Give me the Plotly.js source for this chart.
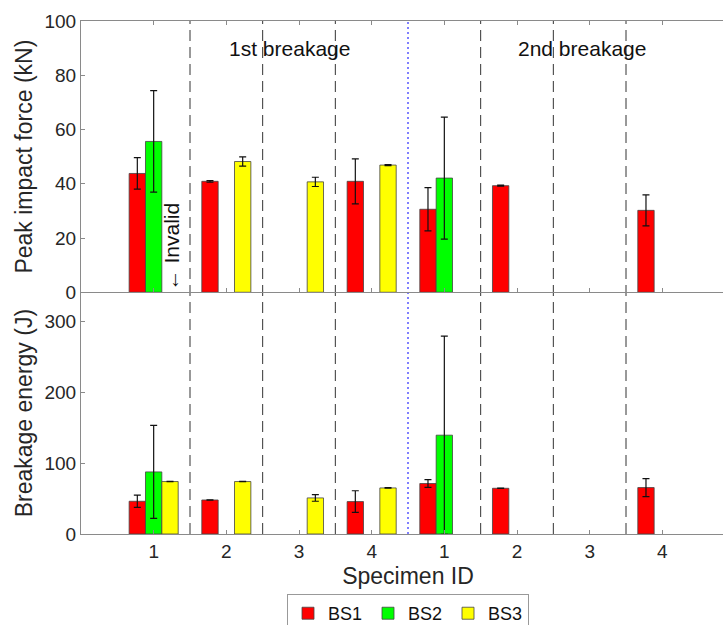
<!DOCTYPE html>
<html>
<head>
<meta charset="utf-8">
<script src="https://cdn.plot.ly/plotly-3.0.1.min.js"></script>
<style>
html,body{margin:0;padding:0;overflow:hidden;background:#fff;}
#chart{width:760px;height:625px;}
</style>
</head>
<body>
<div id="chart"></div>
<script>
// Positions 1..8 : specimens 1-4 (1st breakage), 1-4 (2nd breakage)
const xPos = [1, 2, 3, 4, 5, 6, 7, 8];
const tickLabels = ['1', '2', '3', '4', '1', '2', '3', '4'];
const seriesNames = ['BS1', 'BS2', 'BS3'];

// Peak impact force (kN)
const forceBS1 = [43.8, 40.9, null, 40.9, 30.6, 39.3, null, 30.2];
const forceBS1Err = [5.8, 0.3, null, 8.3, 8.0, 0.2, null, 5.7];
const forceBS2 = [55.6, null, null, null, 42.1, null, null, null];
const forceBS2Err = [18.7, null, null, null, 22.5, null, null, null];
const forceBS3 = [null, 48.2, 40.7, 46.9, null, null, null, null];
const forceBS3Err = [null, 1.7, 1.7, 0.2, null, null, null, null];

// Breakage energy (J)
const energyBS1 = [46.2, 48.0, null, 45.7, 71.2, 64.5, null, 65.5];
const energyBS1Err = [8.7, 0.3, null, 15.3, 5.4, 0.3, null, 12.7];
const energyBS2 = [87.6, null, null, null, 139.4, null, null, null];
const energyBS2Err = [65.6, null, null, null, 139.8, null, null, null];
const energyBS3 = [74.0, 74.0, 50.9, 65.0, null, null, null, null];
const energyBS3Err = [0.3, 0.3, 4.7, 0.4, null, null, null, null];

const colors = ['#ff0000', '#00ff00', '#ffff00'];
const FONT = 'Liberation Sans, Arial, Helvetica, sans-serif';

function barTrace(name, y, err, color, xa, ya, showLegend) {
  return {
    type: 'bar', name: name, x: xPos, y: y,
    xaxis: xa, yaxis: ya, showlegend: showLegend,
    marker: {color: color, line: {color: '#444', width: 0.8}},
    error_y: {type: 'data', array: err, visible: true, color: '#111', thickness: 1.2, width: 3.5}
  };
}

const traces = [
  barTrace(seriesNames[0], forceBS1, forceBS1Err, colors[0], 'x2', 'y2', false),
  barTrace(seriesNames[1], forceBS2, forceBS2Err, colors[1], 'x2', 'y2', false),
  barTrace(seriesNames[2], forceBS3, forceBS3Err, colors[2], 'x2', 'y2', false),
  barTrace(seriesNames[0], energyBS1, energyBS1Err, colors[0], 'x', 'y', true),
  barTrace(seriesNames[1], energyBS2, energyBS2Err, colors[1], 'x', 'y', true),
  barTrace(seriesNames[2], energyBS3, energyBS3Err, colors[2], 'x', 'y', true)
];

const dashedAt = [1.5, 2.5, 3.5, 5.5, 6.5, 7.5];
const shapes = dashedAt.map(v => ({
  type: 'line', xref: 'x', yref: 'paper', x0: v, x1: v, y0: 0, y1: 1,
  line: {color: '#333', width: 1, dash: '11px,6px'}, layer: 'below'
}));
shapes.push({
  type: 'line', xref: 'x', yref: 'paper', x0: 4.5, x1: 4.5, y0: 0, y1: 1,
  line: {color: '#0000ff', width: 1, dash: '2px,3px'}, layer: 'below'
});

const axisLine = '#8a8a8a';
const tickFont = {family: FONT, size: 19, color: '#262626'};
const titleFont = {family: FONT, size: 23, color: '#262626'};

const layout = {
  width: 760, height: 625,
  margin: {l: 81, r: 25, t: 21, b: 91, autoexpand: false},
  paper_bgcolor: '#fff', plot_bgcolor: '#fff',
  font: {family: FONT, color: '#262626'},
  barmode: 'group', bargap: 0.325, bargroupgap: 0,
  xaxis: {
    domain: [0, 1], anchor: 'y', range: [0, 9],
    tickvals: xPos, ticktext: tickLabels, tickfont: tickFont,
    showline: true, linecolor: axisLine, linewidth: 1,
    ticks: 'inside', ticklen: 4, tickcolor: axisLine, mirror: false,
    showgrid: false, zeroline: false,
    title: {text: 'Specimen ID', font: titleFont, standoff: 7}
  },
  xaxis2: {
    domain: [0, 1], anchor: 'y2', range: [0, 9],
    tickvals: xPos, showticklabels: false,
    showline: true, linecolor: axisLine, linewidth: 1,
    ticks: 'inside', ticklen: 4, tickcolor: axisLine, mirror: 'ticks',
    showgrid: false, zeroline: false
  },
  yaxis: {
    domain: [0, 0.4712], anchor: 'x', range: [0, 341],
    tickvals: [0, 100, 200, 300], tickfont: tickFont,
    showline: true, linecolor: axisLine, linewidth: 1,
    ticks: 'inside', ticklen: 4, tickcolor: axisLine,
    showgrid: false, zeroline: false,
    title: {text: 'Breakage energy (J)', font: titleFont, standoff: 5}
  },
  yaxis2: {
    domain: [0.4712, 1], anchor: 'x2', range: [0, 100],
    tickvals: [0, 20, 40, 60, 80, 100], tickfont: tickFont,
    showline: true, linecolor: axisLine, linewidth: 1,
    ticks: 'inside', ticklen: 4, tickcolor: axisLine,
    showgrid: false, zeroline: false,
    title: {text: 'Peak impact force (kN)', font: titleFont, standoff: 5}
  },
  shapes: shapes,
  annotations: [
    {xref: 'x2', yref: 'y2', x: 2.866, y: 90, text: '1st breakage', showarrow: false,
     font: {family: FONT, size: 21, color: '#111'}},
    {xref: 'x2', yref: 'y2', x: 6.9, y: 90, text: '2nd breakage', showarrow: false,
     font: {family: FONT, size: 21, color: '#111'}},
    {xref: 'x2', yref: 'y2', x: 1.24, y: 0, yanchor: 'bottom', text: '\u2190 Invalid', textangle: -90,
     showarrow: false, font: {family: FONT, size: 21, color: '#111'}}
  ],
  legend: {
    orientation: 'h', x: 0.5, xanchor: 'center', y: -0.117, yanchor: 'top',
    bordercolor: '#999', borderwidth: 1, bgcolor: '#fff',
    font: {family: FONT, size: 18, color: '#111'},
    itemwidth: 30, entrywidth: 35, traceorder: 'normal'
  }
};

Plotly.newPlot('chart', traces, layout, {staticPlot: true, displayModeBar: false});
</script>
</body>
</html>
